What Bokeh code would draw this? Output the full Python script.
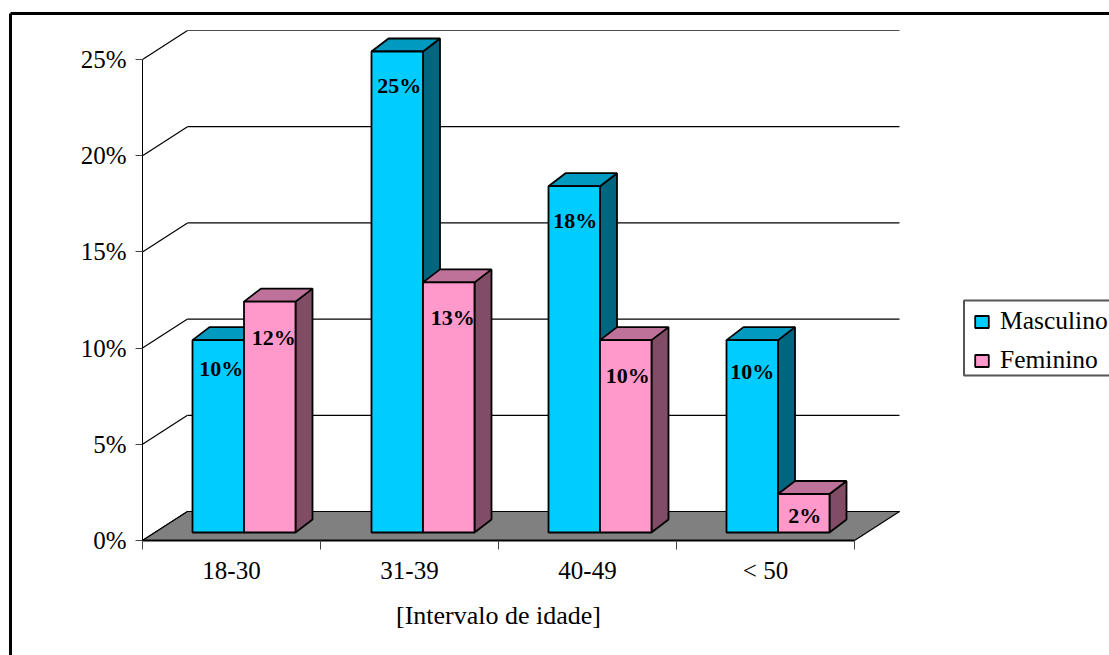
from bokeh.embed import file_html
from bokeh.resources import INLINE
from bokeh.plotting import figure
from bokeh.models import (ColumnDataSource, FixedTicker, Legend, LegendItem,
                          LinearAxis, Range1d)
from bokeh.core.properties import value

# Survey results per age band, in percent
categories = ["18-30", "31-39", "40-49", "< 50"]
masculino = [10, 25, 18, 10]
feminino = [12, 13, 10, 2]
y_ticks = [0, 5, 10, 15, 20, 25]
axis_title = "[Intervalo de idade]"

WIDTH, HEIGHT = 1109, 655
SERIF = "Liberation Serif"

# Page scale: one category step and one percent, expressed in pixels
CAT_PX = 178.0
PCT_PX = 19.24
ORIGIN_X, ORIGIN_Y = 142.0, 540.0


def px_x(px):
    return (px - ORIGIN_X) / CAT_PX


def px_y(py):
    return (ORIGIN_Y - py) / PCT_PX


# Oblique projection depths
WALL_DX, WALL_DY = 45 / CAT_PX, 29 / PCT_PX
BAR_DX, BAR_DY = 17 / CAT_PX, 13 / PCT_PX
BAR_BASE = 8 / PCT_PX        # bars stand slightly inside the floor
BAR_START = 50 / CAT_PX
BAR_W = 51.5 / CAT_PX
GROUP_SHIFT = [0, 1, 0, 0]   # pixel rounding of each group's left edge

p = figure(width=WIDTH, height=HEIGHT, output_backend="svg", toolbar_location=None,
           x_range=Range1d(px_x(0), px_x(WIDTH)),
           y_range=Range1d(px_y(HEIGHT), px_y(0)),
           min_border=0, outline_line_color=None, x_axis_type=None, y_axis_type=None,
           background_fill_color="white", border_fill_color="white")
p.grid.visible = False

n = len(categories)
x_end = float(n)

# Outer frame of the chart area (open on the right and at the bottom)
p.line([px_x(10), px_x(10)], [px_y(HEIGHT), px_y(13)], line_color="black", line_width=3)
p.line([px_x(10), px_x(WIDTH)], [px_y(13), px_y(13)], line_color="black", line_width=3)

# Back wall gridlines and the diagonals down the side wall
for t in y_ticks:
    p.line([WALL_DX, x_end + WALL_DX], [t + WALL_DY, t + WALL_DY],
           line_color="#4d4d4d" if t == 25 else "black", line_width=1.2)
    p.line([0, WALL_DX], [t, t + WALL_DY], line_color="black", line_width=1.2)

# Floor
p.patch([0, x_end, x_end + WALL_DX, WALL_DX], [0, 0, WALL_DY, WALL_DY],
        fill_color="#808080", line_color="black", line_width=1.2)

LW = 1.8
legend_items = []
for i in range(n):
    for j, (vals, front, top, side, name) in enumerate([
        (masculino, "#00CCFF", "#0099BF", "#006680", "Masculino"),
        (feminino, "#FF99CC", "#BF7299", "#804C66", "Feminino"),
    ]):
        x0 = i + BAR_START + (GROUP_SHIFT[i] / CAT_PX) + j * BAR_W
        x1 = x0 + BAR_W
        y0 = BAR_BASE
        y1 = vals[i] + BAR_BASE
        # side and top faces first, then the front
        p.patch([x1, x1 + BAR_DX, x1 + BAR_DX, x1],
                [y0, y0 + BAR_DY, y1 + BAR_DY, y1],
                fill_color=side, line_color="black", line_width=LW)
        p.patch([x0, x1, x1 + BAR_DX, x0 + BAR_DX],
                [y1, y1, y1 + BAR_DY, y1 + BAR_DY],
                fill_color=top, line_color="black", line_width=LW)
        r = p.quad(left=x0, right=x1, bottom=y0, top=y1,
                   fill_color=front, line_color="black", line_width=LW)
        if i == 0:
            legend_items.append(LegendItem(label=name, renderers=[r]))

# Value labels on the bar fronts; nudges are in pixels from the bar's top centre
nudge_x = [3, 4, 2, 4, 1, 2, 0, 1]
nudge_y = [28, 36, 34, 35, 34, 35, 31, 21]
lx, ly, lt = [], [], []
for i in range(n):
    for j, vals in enumerate([masculino, feminino]):
        lx.append(i + BAR_START + (GROUP_SHIFT[i] / CAT_PX) + (j + 0.5) * BAR_W)
        ly.append(vals[i] + BAR_BASE)
        lt.append(f"{vals[i]}%")
labels = ColumnDataSource(dict(x=lx, y=ly, t=lt, dx=nudge_x, dy=nudge_y))
p.text("x", "y", text="t", source=labels, x_offset="dx", y_offset="dy",
       text_align="center", text_baseline="middle",
       text_font=value(SERIF), text_font_size="22px",
       text_font_style="bold", text_color="black")

# Axes sit at fixed data positions so the frame can span the whole page
y_axis = LinearAxis(fixed_location=0, bounds=(0, 25),
                    ticker=FixedTicker(ticks=y_ticks),
                    major_label_overrides={t: f"{t}%" for t in y_ticks})
y_axis.major_tick_in = 0
y_axis.major_tick_out = 7
y_axis.minor_tick_in = 0
y_axis.minor_tick_out = 0
y_axis.major_label_standoff = 9
y_axis.major_label_text_font = SERIF
y_axis.major_label_text_font_size = "25px"
y_axis.major_label_text_color = "black"
y_axis.axis_line_color = "black"
y_axis.major_tick_line_color = "#444444"
p.add_layout(y_axis, "left")

x_axis = LinearAxis(fixed_location=0, bounds=(0, n),
                    ticker=FixedTicker(ticks=[i + 0.5 for i in range(n)],
                                       minor_ticks=list(range(n + 1))),
                    major_label_overrides={i + 0.5: c for i, c in enumerate(categories)})
x_axis.major_tick_in = 0
x_axis.major_tick_out = 0
x_axis.minor_tick_in = 0
x_axis.minor_tick_out = 9
x_axis.major_label_standoff = 7
x_axis.major_label_text_font = SERIF
x_axis.major_label_text_font_size = "25px"
x_axis.major_label_text_color = "black"
x_axis.axis_line_color = "black"
x_axis.axis_line_width = 2
x_axis.minor_tick_line_color = "#444444"
x_axis.axis_label = axis_title
x_axis.axis_label_standoff = 14
x_axis.axis_label_text_font = SERIF
x_axis.axis_label_text_font_style = "normal"
x_axis.axis_label_text_font_size = "26px"
x_axis.axis_label_text_color = "black"
p.add_layout(x_axis, "below")

# Legend frame runs off the right edge of the page, so it is drawn separately
p.quad(left=px_x(963.5), right=px_x(1112), bottom=px_y(375), top=px_y(300),
       fill_color="white", line_color="#555555", line_width=2)

legend = Legend(items=legend_items, location=(973, 280), orientation="vertical",
                label_text_font=SERIF, label_text_font_size="25.5px",
                label_text_color="black", border_line_color=None,
                background_fill_alpha=0.0,
                glyph_width=17, glyph_height=15, spacing=9, padding=6, margin=0,
                label_standoff=10)
p.add_layout(legend)

open("out.html", "w").write(file_html(p, INLINE))
